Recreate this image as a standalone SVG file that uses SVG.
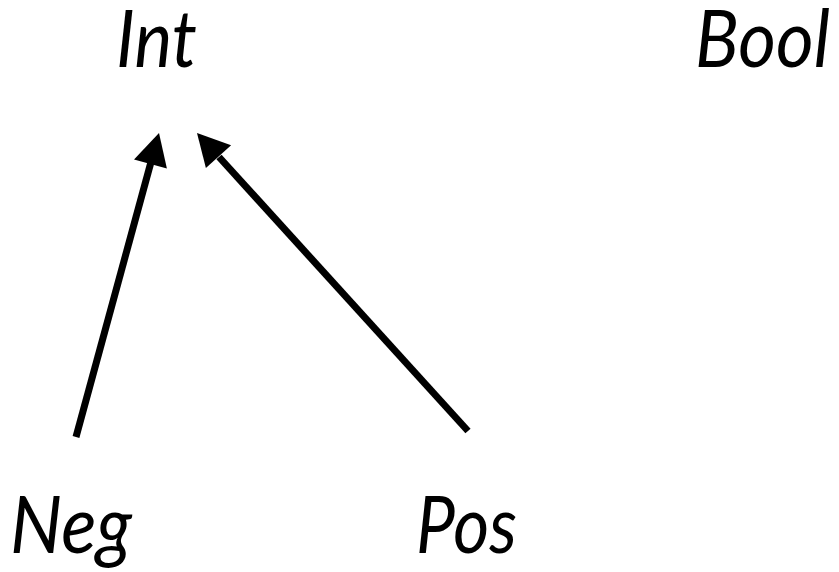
<svg xmlns="http://www.w3.org/2000/svg" width="839" height="572" viewBox="0 0 839 572">
<style>
.lbl{font-family:Lato,"Open Sans","Liberation Sans",sans-serif;font-style:italic;font-size:80px;fill:#000}
.edge{stroke:#000;stroke-width:7;fill:none}
.head{fill:#000}
</style>
<rect width="839" height="572" fill="#fff"/>
<g id="connectors">
<line class="edge" x1="76" y1="437" x2="151" y2="162"/>
<polygon class="head" points="159,133 134,159.4 166.9,168.4"/>
<line class="edge" x1="468" y1="431" x2="219" y2="157"/>
<polygon class="head" points="197,133 231.1,145.3 205.9,168.1"/>
</g>
<g id="node-int"><text class="lbl" x="116" y="67" textLength="81" lengthAdjust="spacingAndGlyphs">Int</text></g>
<g id="node-bool"><text class="lbl" x="695" y="67" textLength="135" lengthAdjust="spacingAndGlyphs">Bool</text></g>
<g id="node-neg"><text class="lbl" x="10" y="553" textLength="122" lengthAdjust="spacingAndGlyphs">Neg</text></g>
<g id="node-pos"><text class="lbl" x="416" y="553" textLength="101" lengthAdjust="spacingAndGlyphs">Pos</text></g>
</svg>
